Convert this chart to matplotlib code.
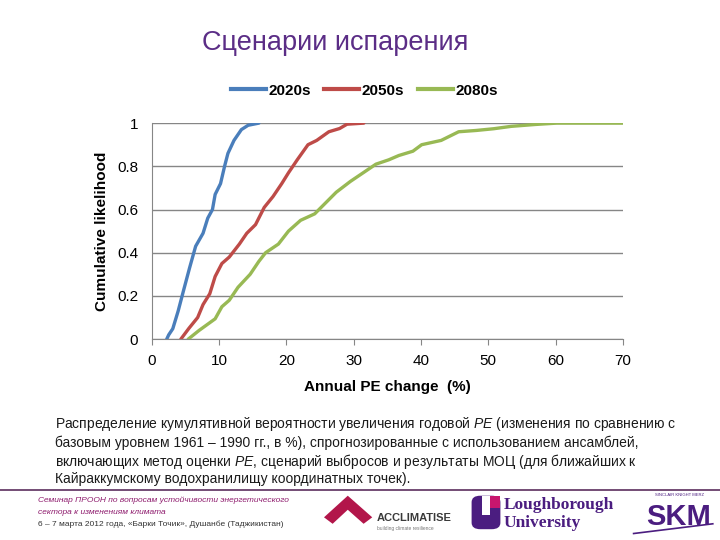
import matplotlib.pyplot as plt
from matplotlib import patches
from matplotlib.lines import Line2D

plt.rcParams['font.family'] = ['Liberation Sans', 'DejaVu Sans']
plt.rcParams['mathtext.fontset'] = 'custom'
plt.rcParams['mathtext.it'] = 'Liberation Sans:italic'
plt.rcParams['mathtext.rm'] = 'Liberation Sans'

# cumulative likelihood curves
x_2020s = [2.2, 2.5, 3.1, 3.9, 4.7, 5.6, 6.5, 7.6, 8.3, 9.0, 9.4, 10.2,
           10.8, 11.3, 12.2, 13.3, 14.3, 15.9]
y_2020s = [0.0, 0.02, 0.048, 0.13, 0.225, 0.33, 0.43, 0.49, 0.56, 0.60,
           0.67, 0.72, 0.80, 0.86, 0.92, 0.97, 0.99, 1.0]

x_2050s = [4.3, 5.5, 6.8, 7.6, 8.6, 9.4, 10.4, 11.5, 13.0, 14.1, 15.4,
           16.7, 18.0, 19.3, 20.3, 21.6, 23.2, 24.5, 26.3, 27.9, 29.0, 31.5]
y_2050s = [0.0, 0.05, 0.10, 0.16, 0.21, 0.29, 0.35, 0.38, 0.44, 0.49, 0.53,
           0.61, 0.66, 0.72, 0.77, 0.83, 0.90, 0.92, 0.96, 0.975, 0.995, 1.0]

x_2080s = [5.4, 7.0, 9.4, 10.4, 11.5, 12.8, 14.6, 15.9, 16.9, 18.8, 20.3,
           22.1, 24.2, 25.8, 27.4, 29.5, 31.4, 33.3, 35.2, 36.7, 38.8, 40.1,
           43.0, 45.6, 48.2, 50.8, 53.4, 57.1, 60.2, 70.0]
y_2080s = [0.0, 0.04, 0.094, 0.15, 0.18, 0.24, 0.30, 0.36, 0.40, 0.44, 0.50,
           0.55, 0.58, 0.63, 0.68, 0.73, 0.77, 0.81, 0.83, 0.85, 0.87, 0.90,
           0.92, 0.96, 0.966, 0.974, 0.985, 0.994, 1.0, 1.0]

series_labels = ['2020s', '2050s', '2080s']
series_colors = ['#4a7ebb', '#be4b48', '#98b954']

x_ticks = [0, 10, 20, 30, 40, 50, 60, 70]
y_ticks = [0, 0.2, 0.4, 0.6, 0.8, 1]
y_tick_labels = ['0', '0.2', '0.4', '0.6', '0.8', '1']

title = 'Сценарии испарения'
caption_lines = [
    r'Распределение кумулятивной вероятности увеличения годовой $PE$ '
    r'(изменения по сравнению с',
    'базовым уровнем 1961 – 1990 гг., в %), спрогнозированные с '
    'использованием ансамблей,',
    r'включающих метод оценки $PE$, сценарий выбросов и результаты МОЦ '
    '(для ближайших к',
    'Кайраккумскому водохранилищу координатных точек).',
]
footer_lines = [
    'Семинар ПРООН по вопросам устойчивости энергетического',
    'сектора к изменениям климата',
    '6 – 7 марта 2012 года, «Барки Точик», Душанбе (Таджикистан)',
]

fig = plt.figure(figsize=(7.2, 5.4), dpi=100)
fig.patch.set_facecolor('white')

fig.text(0.465, 0.920, title, ha='center', va='center', fontsize=19.5,
         color='#5b2d86')

ax = fig.add_axes([0.211, 0.372, 0.654, 0.400])
curves = [(x_2020s, y_2020s), (x_2050s, y_2050s), (x_2080s, y_2080s)]
for (xs, ys), label, color in zip(curves, series_labels, series_colors):
    ax.plot(xs, ys, color=color, lw=2.4, label=label,
            solid_capstyle='round', zorder=3)

ax.set_xlim(0, 70)
ax.set_ylim(0, 1)
ax.set_xticks(x_ticks)
ax.set_yticks(y_ticks)
ax.set_yticklabels(y_tick_labels)
ax.yaxis.grid(True, color='#868686', lw=1.0)
ax.set_axisbelow(True)
for side in ['top', 'right']:
    ax.spines[side].set_visible(False)
for side in ['left', 'bottom']:
    ax.spines[side].set_color('#868686')
ax.tick_params(axis='both', colors='#868686', labelcolor='black',
               labelsize=11, length=4, direction='out')
ax.tick_params(axis='x', pad=7)
ax.tick_params(axis='y', length=0, pad=10)
ax.set_xlabel('Annual PE change  (%)', fontsize=11, fontweight='bold',
              labelpad=8)
ax.set_ylabel('Cumulative likelihood', fontsize=11, fontweight='bold',
              labelpad=6)

handles = [Line2D([], [], color=c, lw=3) for c in series_colors]
fig.legend(handles, series_labels, loc='center', ncol=3,
           bbox_to_anchor=(0.506, 0.832), frameon=False,
           handlelength=2.3, columnspacing=0.9, handletextpad=0.15,
           prop={'weight': 'bold', 'size': 11})

caption_y = [0.215, 0.180, 0.146, 0.113]
for text, y in zip(caption_lines, caption_y):
    fig.text(0.076, y, text, ha='left', va='center', fontsize=10,
             color='#1a1a1a')

fig.add_artist(Line2D([0.0, 1.0], [0.093, 0.093], color='#5b2d5e', lw=1.2))

footer_y = [0.073, 0.051, 0.029]
footer_colors = ['#8e1b6d', '#8e1b6d', '#333333']
footer_styles = ['italic', 'italic', 'normal']
for text, y, c, s in zip(footer_lines, footer_y, footer_colors,
                         footer_styles):
    fig.text(0.053, y, text, ha='left', va='center', fontsize=6,
             color=c, style=s)

# logos
fig.add_artist(patches.Polygon(
    [(0.450, 0.042), (0.483, 0.082), (0.517, 0.042), (0.505, 0.030),
     (0.483, 0.056), (0.462, 0.030)], closed=True,
    transform=fig.transFigure, facecolor='#b2164a', edgecolor='none'))
fig.text(0.523, 0.040, 'ACCLIMATISE', fontsize=8, fontweight='bold',
         color='#3a3a3a', va='center')
fig.text(0.523, 0.022, 'building climate resilience', fontsize=3.5,
         color='#777777', va='center')

fig.add_artist(patches.FancyBboxPatch(
    (0.655, 0.020), 0.040, 0.062, boxstyle='round,pad=0,rounding_size=0.012',
    transform=fig.transFigure, facecolor='#4b1d80', edgecolor='none'))
fig.add_artist(patches.Rectangle(
    (0.669, 0.046), 0.012, 0.036, transform=fig.transFigure,
    facecolor='white', edgecolor='none'))
fig.add_artist(patches.Rectangle(
    (0.681, 0.060), 0.014, 0.022, transform=fig.transFigure,
    facecolor='#c8166e', edgecolor='none'))
fig.text(0.700, 0.064, 'Loughborough', fontsize=12.5,
         family='Liberation Serif', fontweight='bold', color='#4b1d80',
         va='center')
fig.text(0.700, 0.032, 'University', fontsize=12.5,
         family='Liberation Serif', fontweight='bold', color='#4b1d80',
         va='center')

fig.text(0.942, 0.043, 'SKM', fontsize=21, fontweight='heavy',
         color='#4b1d80', ha='center', va='center')
fig.text(0.944, 0.083, 'SINCLAIR KNIGHT MERZ', fontsize=3, color='#4b1d80',
         ha='center', va='center')
fig.add_artist(Line2D([0.880, 0.990], [0.012, 0.030], color='#4b1d80',
                      lw=1.2))

fig.savefig('out.png', dpi=100)
